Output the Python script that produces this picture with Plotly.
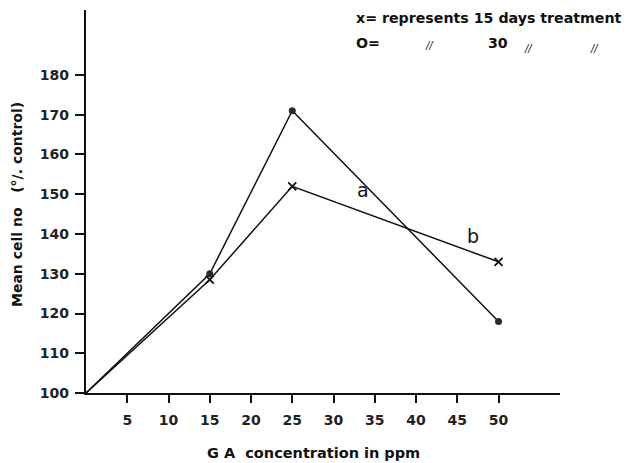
import plotly.graph_objects as go

# ---- data ----
ga_ppm = [0, 15, 25, 50]
days30 = [100, 130, 171, 118]     # curve a (circles)
days15 = [100, 128.5, 152, 133]   # curve b (crosses)
x_ticks = [5, 10, 15, 20, 25, 30, 35, 40, 45, 50]
y_ticks = [100, 110, 120, 130, 140, 150, 160, 170, 180]

# page body has an 8px margin, so figure coordinates = screen - 8
OFF = 8
W, H = 637 - OFF, 463 - OFF
L, R, T, B = 86 - OFF, 77, 10 - OFF, 70
XMAX = 57.45
YMIN, YMAX = 100, 196.35

def px2paper_x(px):
    return (px - OFF - L) / (W - L - R)

def px2paper_y(py):
    return (H - B - (py - OFF)) / (H - B - T)

INK = "#111111"
FONT = "DejaVu Sans"

fig = go.Figure()
fig.add_trace(go.Scatter(
    x=ga_ppm, y=days30, mode="lines", line=dict(color=INK, width=1.5),
    showlegend=False, hoverinfo="skip"))
fig.add_trace(go.Scatter(
    x=ga_ppm[1:], y=days30[1:], mode="markers",
    marker=dict(symbol="circle", size=7, color="#2a2a2a"),
    showlegend=False, hoverinfo="skip"))
fig.add_trace(go.Scatter(
    x=ga_ppm, y=days15, mode="lines", line=dict(color=INK, width=1.5),
    showlegend=False, hoverinfo="skip"))
fig.add_trace(go.Scatter(
    x=ga_ppm[1:], y=days15[1:], mode="markers",
    marker=dict(symbol="x-thin", size=8, line=dict(color=INK, width=1.8)),
    showlegend=False, hoverinfo="skip"))

fig.update_xaxes(
    range=[0, XMAX], tickvals=x_ticks,
    ticktext=[f"<b>{v}</b>" for v in x_ticks],
    showgrid=False, zeroline=False, showline=True, linecolor=INK, linewidth=2.2,
    ticks="outside", ticklen=8, tickwidth=1.5, tickcolor=INK,
    ticklabelstandoff=5,
    tickfont=dict(family=FONT, size=14, color="#222"))
fig.update_yaxes(
    range=[YMIN, YMAX], tickvals=y_ticks,
    ticktext=[f"<b>{v}</b>" for v in y_ticks],
    showgrid=False, zeroline=False, showline=True, linecolor=INK, linewidth=2.2,
    ticks="outside", ticklen=9, tickwidth=1.5, tickcolor=INK,
    ticklabelstandoff=3,
    tickfont=dict(family=FONT, size=14, color="#222"))

ann = []
def add_text(text, px, py, size=14, xanchor="center", angle=0):
    ann.append(dict(text=text, x=px2paper_x(px), y=px2paper_y(py),
                    xref="paper", yref="paper",
                    showarrow=False, xanchor=xanchor, yanchor="middle",
                    textangle=angle,
                    font=dict(family=FONT, size=size, color=INK)))

add_text("<b>x= represents 15 days treatment</b>", 354, 18, size=14.2, xanchor="left")
add_text("<b>O=</b>", 354, 43, size=14.2, xanchor="left")
add_text("<i>//</i>", 429, 45, size=10)
add_text("<b>30</b>", 498, 43, size=14.2)
add_text("<i>//</i>", 528, 48, size=10)
add_text("<i>//</i>", 594, 49, size=10)
add_text("a", 363, 190, size=19)
add_text("b", 473, 236, size=19)
add_text("<b>G A  concentration in ppm</b>", 313, 453, size=14.5)
add_text("<b>Mean cell no   (°/. control)</b>", 17, 205, size=14, angle=-90)

fig.update_layout(
    width=W, height=H, margin=dict(l=L, r=R, t=T, b=B),
    paper_bgcolor="white", plot_bgcolor="white",
    annotations=ann, showlegend=False)

fig.write_html("out.html")
